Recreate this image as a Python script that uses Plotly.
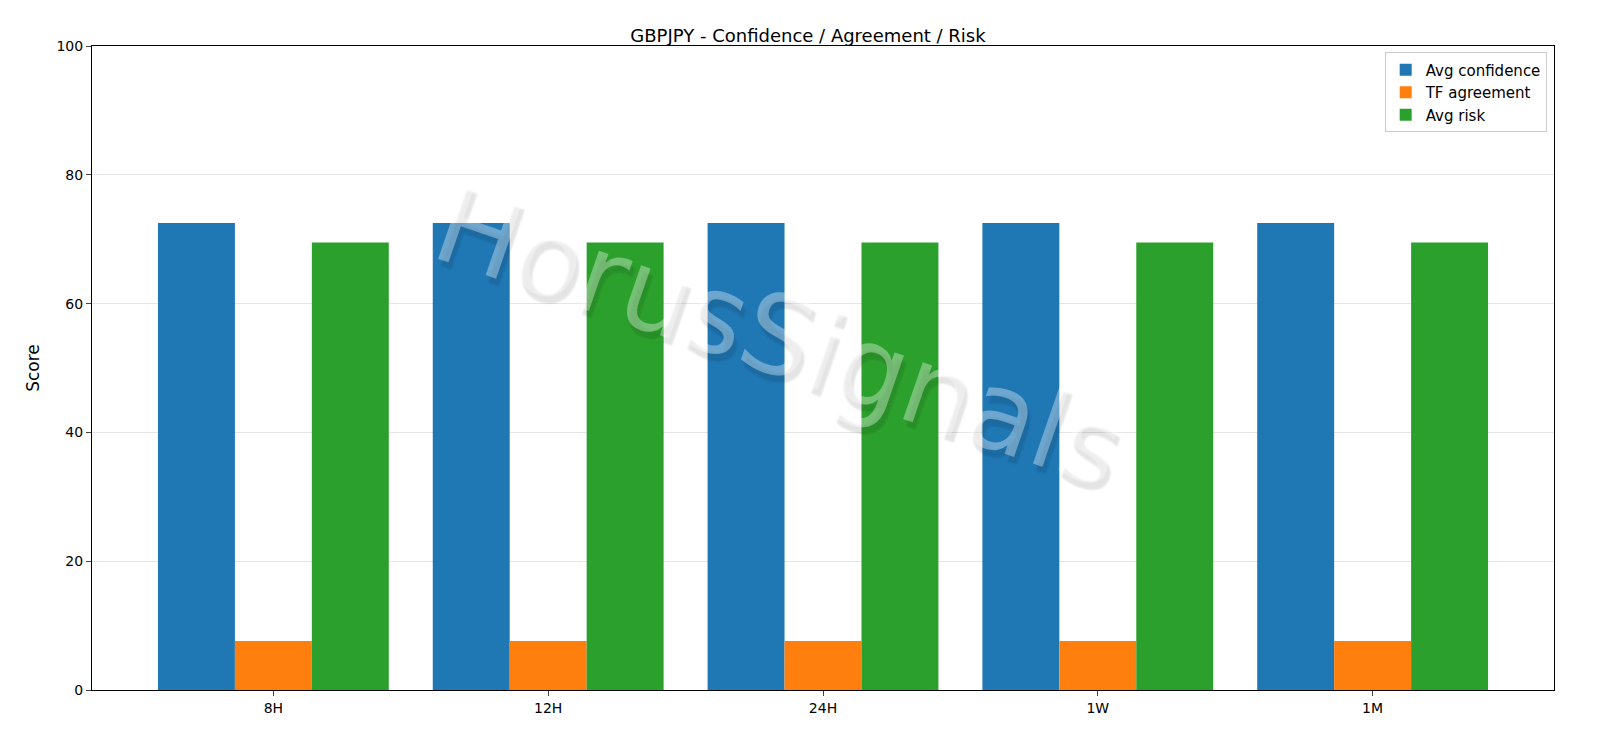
import plotly.graph_objects as go

categories = ["8H", "12H", "24H", "1W", "1M"]
avg_confidence = [72.5, 72.5, 72.5, 72.5, 72.5]
tf_agreement = [7.6, 7.6, 7.6, 7.6, 7.6]
avg_risk = [69.5, 69.5, 69.5, 69.5, 69.5]

fig = go.Figure()
for name, vals, col in [("Avg confidence", avg_confidence, "#1f77b4"),
                        ("TF agreement", tf_agreement, "#ff7f0e"),
                        ("Avg risk", avg_risk, "#2ca02c")]:
    fig.add_bar(x=categories, y=vals, name=name, marker_color=col, marker_line_width=0)

fig.add_annotation(x=0.47, y=0.55, xref="paper", yref="paper", text="HorusSignals",
                   showarrow=False, textangle=19,
                   font=dict(family="DejaVu Sans", size=110, color="rgba(255,255,255,0.35)",
                             shadow="5px 6px 2px rgba(0,0,0,0.3)"))

fig.update_layout(
    width=1600, height=738,
    margin=dict(l=84, r=54, t=38, b=56),
    paper_bgcolor="white", plot_bgcolor="white",
    title=dict(text="GBPJPY - Confidence / Agreement / Risk", x=0.5, xanchor="center",
               y=0.962, yanchor="middle", font=dict(size=18, color="black")),
    font=dict(family="DejaVu Sans", size=14, color="black"),
    barmode="group", bargap=0.16, bargroupgap=0,
    legend=dict(x=0.995, y=0.99, xanchor="right", yanchor="top",
                bordercolor="#cccccc", borderwidth=1, bgcolor="rgba(255,255,255,0.8)",
                font=dict(size=15)),
    xaxis=dict(range=[-0.66, 4.66], showline=True, linecolor="black", mirror=True,
               ticks="outside", ticklen=5, showgrid=False),
    yaxis=dict(range=[0, 100], dtick=20, showline=True, linecolor="black", mirror=True,
               ticks="outside", ticklen=5, showgrid=True, gridcolor="#e6e6e6",
               zeroline=False, title=dict(text="Score", standoff=12)),
)
fig.write_html("out.html")
